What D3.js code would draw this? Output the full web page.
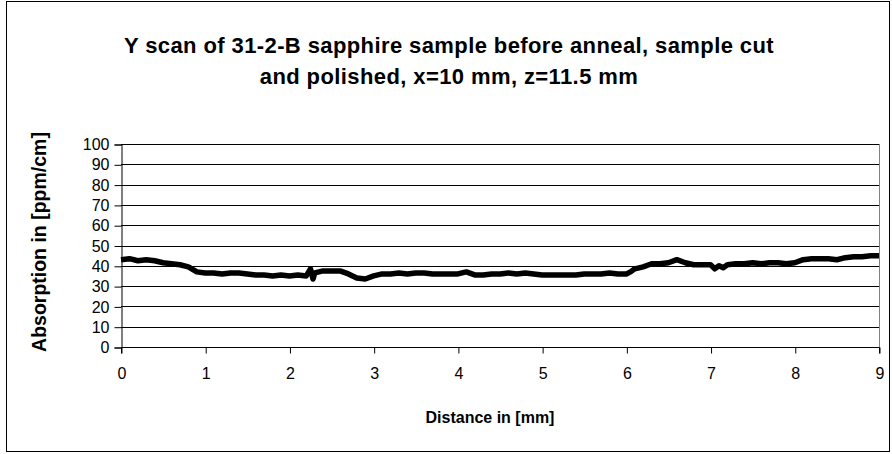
<!DOCTYPE html>
<html><head><meta charset="utf-8">
<script src="https://cdn.jsdelivr.net/npm/d3@7"></script>
<style>body{margin:0;background:#fff}svg{display:block;font-family:"Liberation Sans",Arial,sans-serif}</style>
</head><body><svg id="c" width="892" height="454"></svg>
<script>
const titleLines = ["Y scan of 31-2-B sapphire sample before anneal, sample cut", "and polished, x=10 mm, z=11.5 mm"];
const xLabel = "Distance in [mm]";
const yLabel = "Absorption in [ppm/cm]";
const xTicks = [0,1,2,3,4,5,6,7,8,9];
const yTicks = [0,10,20,30,40,50,60,70,80,90,100];
const distance = [0.0,0.1,0.2,0.3,0.4,0.5,0.6,0.7,0.8,0.9,1.0,1.1,1.2,1.3,1.4,1.5,1.6,1.7,1.8,1.9,2.0,2.1,2.2,2.25,2.28,2.3,2.4,2.5,2.6,2.7,2.8,2.9,3.0,3.1,3.2,3.3,3.4,3.5,3.6,3.7,3.8,3.9,4.0,4.1,4.2,4.3,4.4,4.5,4.6,4.7,4.8,4.9,5.0,5.1,5.2,5.3,5.4,5.5,5.6,5.7,5.8,5.9,6.0,6.05,6.1,6.2,6.3,6.4,6.5,6.6,6.7,6.8,6.9,7.0,7.05,7.1,7.15,7.2,7.3,7.4,7.5,7.6,7.7,7.8,7.9,8.0,8.1,8.2,8.3,8.4,8.5,8.6,8.7,8.8,8.9,9.0];
const absorption = [43,43.5,42.5,43,42.5,41.5,41,40.5,39.5,37,36.5,36.5,36,36.5,36.5,36,35.5,35.5,35,35.5,35,35.5,35,38.5,33.5,36.5,37.5,37.5,37.5,36,34,33.5,35,36,36,36.5,36,36.5,36.5,36,36,36,36,37,35.5,35.5,36,36,36.5,36,36.5,36,35.5,35.5,35.5,35.5,35.5,36,36,36,36.5,36,36,37,38.5,39.5,41,41,41.5,43,41.5,40.5,40.5,40.5,38.5,40,39,40.5,41,41,41.5,41,41.5,41.5,41,41.5,43,43.5,43.5,43.5,43,44,44.5,44.5,45,45];

const svg = d3.select("#c");
const m = {l:121, r:879, t:144, b:347};
const x = d3.scaleLinear().domain([0,9]).range([m.l, m.r]);
const y = d3.scaleLinear().domain([0,100]).range([m.b, m.t]);

svg.append("rect").attr("x",6.5).attr("y",1.5).attr("width",883).attr("height",450)
  .attr("fill","#fff").attr("stroke","#000").attr("stroke-width",1);

// gridlines
svg.append("g").selectAll("line").data(yTicks.filter(d=>d>0)).join("line")
  .attr("x1",m.l).attr("x2",m.r).attr("y1",d=>Math.round(y(d))+0.5).attr("y2",d=>Math.round(y(d))+0.5)
  .attr("stroke","#000").attr("stroke-width",1);
svg.append("line").attr("x1",m.r+0.5).attr("x2",m.r+0.5).attr("y1",m.t).attr("y2",m.b)
  .attr("stroke","#808080");

// axes
const yAxis = svg.append("g").attr("transform",`translate(${m.l+0.5},0.5)`)
  .call(d3.axisLeft(y).tickValues(yTicks).tickSize(7).tickPadding(5));
const xAxis = svg.append("g").attr("transform",`translate(0.5,${Math.round(m.b)+0.5})`)
  .call(d3.axisBottom(x).tickValues(xTicks).tickSize(6).tickPadding(14));
[yAxis,xAxis].forEach(g=>{
  g.select(".domain").attr("stroke","#000");
  g.selectAll(".tick line").attr("stroke","#000");
  g.selectAll("text").attr("font-size","16px").attr("font-family","Liberation Sans, Arial, sans-serif").attr("fill","#000");
});
xAxis.select(".domain").attr("d",`M${m.l},6V0H${m.r}V6`);

// data line
const line = d3.line().x((d,i)=>x(distance[i])).y(d=>y(d));
svg.append("path").datum(absorption).attr("d",line)
  .attr("fill","none").attr("stroke","#000").attr("stroke-width",5.5).attr("stroke-linejoin","round");

// titles
svg.append("g").selectAll("text").data(titleLines).join("text")
  .attr("x",449).attr("y",(d,i)=>53+i*31).attr("text-anchor","middle")
  .attr("font-size","22px").attr("font-weight","bold").attr("letter-spacing","0.4px").text(d=>d);
svg.append("text").attr("x",490).attr("y",423).attr("text-anchor","middle")
  .attr("font-size","16px").attr("font-weight","bold").text(xLabel);
svg.append("text").attr("transform","translate(46,242) rotate(-90)").attr("text-anchor","middle")
  .attr("font-size","19.5px").attr("font-weight","bold").text(yLabel);
</script></body></html>
